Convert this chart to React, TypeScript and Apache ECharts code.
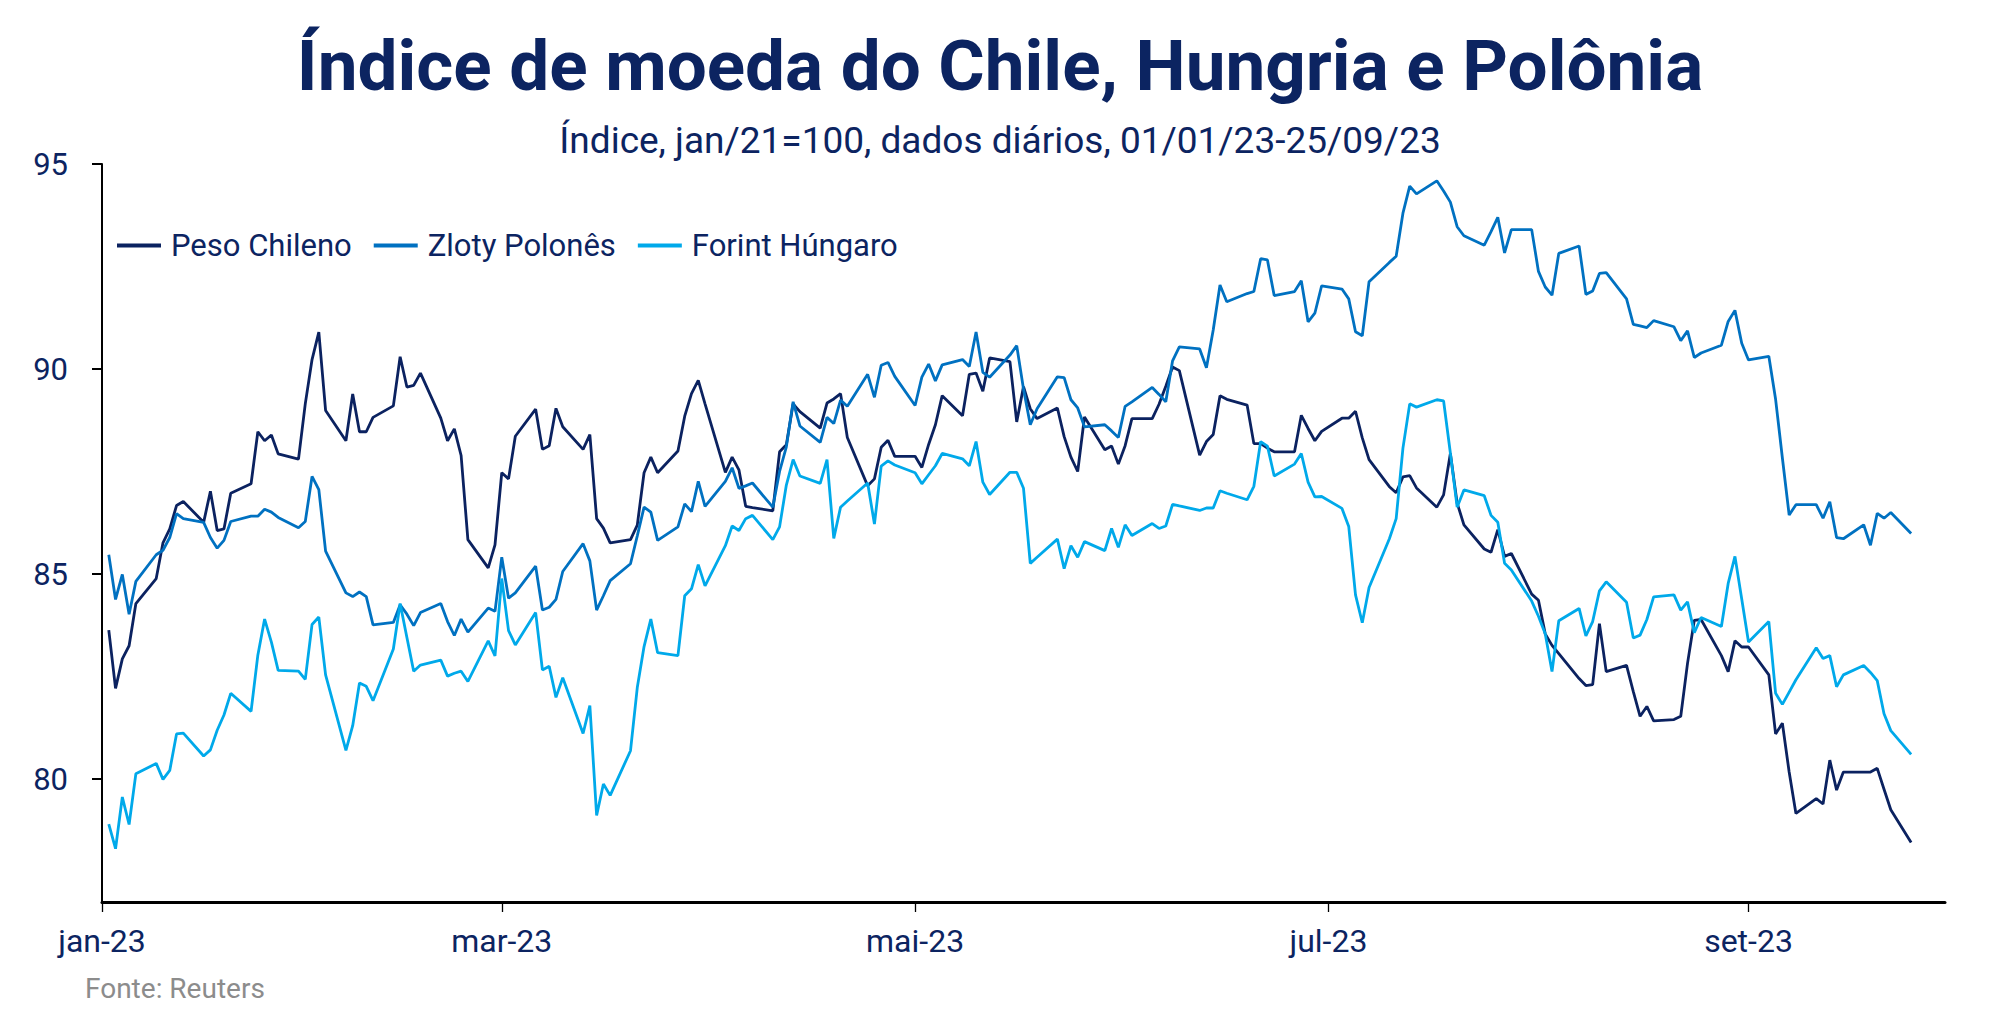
import React, { useEffect, useRef } from "react";
import * as echarts from "echarts";

const TITLE = "Índice de moeda do Chile, Hungria e Polônia";
const SUBTITLE = "Índice, jan/21=100, dados diários, 01/01/23-25/09/23";
const SOURCE = "Fonte: Reuters";

const seriesNames = ["Peso Chileno", "Zloty Polonês", "Forint Húngaro"];
const seriesColors = ["#0b2260", "#0071c1", "#00a9ea"];

// x-axis ticks: day offset from 01/01/2023
const xTickDays = [0, 59, 120, 181, 243];
const xTickLabels = ["jan-23", "mar-23", "mai-23", "jul-23", "set-23"];
const yTicks = [80, 85, 90, 95];

// business days 02/01/2023 .. 25/09/2023 (day offsets from 01/01/2023)
const firstDay = 1;
const lastDay = 267;

// one row per week (Mon..Fri)
const pesoChileno = [
  83.63, 82.21, 82.93, 83.25, 84.28,
  84.89, 85.76, 86.1, 86.67, 86.77,
  86.26, 87.02, 86.06, 86.1, 86.97,
  87.2, 88.47, 88.25, 88.39, 87.93,
  87.8, 89.15, 90.23, 90.9, 88.99,
  88.25, 89.39, 88.47, 88.47, 88.82,
  89.1, 90.3, 89.56, 89.6, 89.9,
  88.8, 88.25, 88.54, 87.89, 85.84,
  85.15, 85.71, 87.47, 87.32, 88.36,
  89.02, 88.04, 88.13, 89.04, 88.59,
  88.04, 88.4, 86.35, 86.12, 85.76,
  85.84, 86.19, 87.47, 87.85, 87.47,
  88.0, 88.85, 89.4, 89.72, 89.15,
  87.48, 87.85, 87.54, 86.65, 86.62,
  86.54, 87.98, 88.15, 89.15, 88.96,
  88.56, 89.17, 89.27, 89.4, 88.33,
  87.15, 87.32, 88.09, 88.26, 87.87,
  87.87, 87.6, 88.16, 88.64, 89.35,
  88.86, 89.87, 89.9, 89.46, 90.27,
  90.18, 88.71, 89.57, 89.03, 88.79,
  89.05, 88.35, 87.85, 87.5, 88.83,
  88.03, 88.12, 87.68, 88.13, 88.79,
  88.79, 89.14, 89.58, 90.05, 89.96,
  87.9, 88.23, 88.4, 89.35, 89.26,
  89.12, 88.18, 88.18, 88.07, 87.98,
  87.98, 88.87, 88.55, 88.25, 88.48,
  88.8, 88.8, 88.97, 88.32, 87.79,
  87.13, 86.98, 87.37, 87.4, 87.1,
  86.63, 86.93, 87.94, 86.73, 86.2,
  85.61, 85.53, 86.08, 85.43, 85.5,
  84.51, 84.36, 83.54, 83.26, 83.06,
  82.45, 82.28, 82.3, 83.79, 82.62,
  82.77, 82.13, 81.53, 81.77, 81.42,
  81.45, 81.53, 82.82, 83.87, 83.89,
  83.01, 82.62, 83.37, 83.22, 83.22,
  82.54, 81.1, 81.36, 80.17, 79.16,
  79.52, 79.39, 80.46, 79.73, 80.17,
  80.17, 80.17, 80.26, 79.75, 79.25,
  78.45,
];

const zlotyPolones = [
  85.47, 84.38, 84.99, 84.02, 84.82,
  85.47, 85.58, 85.89, 86.47, 86.35,
  86.26, 85.89, 85.63, 85.82, 86.28,
  86.41, 86.41, 86.58, 86.51, 86.38,
  86.13, 86.28, 87.38, 87.06, 85.56,
  84.54, 84.45, 84.56, 84.45, 83.76,
  83.82, 84.25, 84.02, 83.74, 84.06,
  84.28, 83.84, 83.5, 83.9, 83.58,
  84.17, 84.09, 85.41, 84.41, 84.54,
  85.19, 84.12, 84.19, 84.38, 85.06,
  85.74, 85.32, 84.12, 84.47, 84.84,
  85.25, 85.93, 86.63, 86.51, 85.82,
  86.15, 86.71, 86.52, 87.26, 86.65,
  87.26, 87.59, 87.09, 87.15, 87.22,
  86.63, 87.5, 88.1, 89.2, 88.61,
  88.21, 88.82, 88.67, 89.24, 89.09,
  89.87, 89.31, 90.09, 90.16, 89.82,
  89.11, 89.8, 90.12, 89.71, 90.1,
  90.23, 90.06, 90.9, 89.92, 89.8,
  90.34, 90.57, 89.51, 88.64, 89.03,
  89.81, 89.79, 89.25, 89.05, 88.59,
  88.64, 88.49, 88.33, 89.09, 89.2,
  89.55, 89.38, 89.2, 90.2, 90.54,
  90.49, 90.03, 90.95, 92.05, 91.64,
  91.84, 91.89, 92.69, 92.66, 91.79,
  91.89, 92.15, 91.15, 91.36, 92.03,
  91.95, 91.71, 90.91, 90.81, 92.13,
  92.6, 92.75, 93.8, 94.46, 94.27,
  94.59, 94.34, 94.07, 93.47, 93.25,
  93.02, 93.35, 93.7, 92.83, 93.4,
  93.4, 92.38, 92.0, 91.8, 92.82,
  93.0, 91.82, 91.9, 92.33, 92.35,
  91.71, 91.09, 91.05, 91.01, 91.18,
  91.03, 90.69, 90.93, 90.28, 90.39,
  90.58, 91.16, 91.43, 90.63, 90.22,
  90.31, 89.26, 87.83, 86.44, 86.69,
  86.69, 86.36, 86.76, 85.89, 85.86,
  86.2, 85.7, 86.48, 86.36, 86.5,
  85.99,
];

const forintHungaro = [
  78.9, 78.3, 79.56, 78.89, 80.13,
  80.38, 79.99, 80.21, 81.1, 81.12,
  80.56, 80.71, 81.19, 81.56, 82.09,
  81.65, 83.02, 83.9, 83.34, 82.65,
  82.63, 82.43, 83.77, 83.95, 82.54,
  80.7, 81.3, 82.34, 82.26, 81.91,
  83.17, 84.28, 83.45, 82.63, 82.78,
  82.9, 82.51, 82.58, 82.63, 82.38,
  83.37, 83.0, 84.89, 83.62, 83.27,
  84.06, 82.66, 82.75, 81.99, 82.47,
  81.11, 81.79, 79.11, 79.88, 79.6,
  80.69, 82.23, 83.23, 83.9, 83.08,
  83.01, 84.47, 84.64, 85.23, 84.71,
  85.69, 86.17, 86.06, 86.35, 86.43,
  85.84, 86.15, 87.17, 87.79, 87.39,
  87.21, 87.79, 85.87, 86.63, 86.78,
  87.22, 86.22, 87.63, 87.76, 87.66,
  87.47, 87.2, 87.42, 87.64, 87.94,
  87.81, 87.64, 88.23, 87.24, 86.94,
  87.48, 87.48, 87.09, 85.26, 85.41,
  85.85, 85.13, 85.69, 85.41, 85.79,
  85.57, 86.11, 85.65, 86.2, 85.94,
  86.23, 86.11, 86.17, 86.7, 86.66,
  86.55, 86.61, 86.61, 87.03, 86.97,
  86.81, 87.14, 88.23, 88.12, 87.39,
  87.68, 87.94, 87.24, 86.88, 86.89,
  86.6, 86.16, 84.49, 83.81, 84.67,
  85.86, 86.35, 88.07, 89.15, 89.07,
  89.25, 89.22, 87.95, 86.63, 87.05,
  86.91, 86.43, 86.26, 85.26, 85.1,
  84.34, 83.97, 83.54, 82.62, 83.86,
  84.16, 83.49, 83.84, 84.59, 84.81,
  84.31, 83.44, 83.51, 83.89, 84.44,
  84.49, 84.12, 84.32, 83.57, 83.94,
  83.72, 84.77, 85.43, 84.39, 83.34,
  83.84, 82.09, 81.82, 82.12, 82.42,
  83.2, 82.94, 83.01, 82.25, 82.54,
  82.77, 82.6, 82.4, 81.59, 81.18,
  80.6,
];

const NAVY = "#0c2461";

function businessDays(): number[] {
  const out: number[] = [];
  // 01/01/2023 was a Sunday: day offset d is a weekday when (d - 1) % 7 < 5
  for (let d = firstDay; d <= lastDay; d++) if ((d - 1) % 7 < 5) out.push(d);
  return out;
}

export default function App() {
  const ref = useRef<HTMLDivElement>(null);
  useEffect(() => {
    document.body.style.margin = "0";
    if (!ref.current) return;
    const chart = echarts.init(ref.current, null, { renderer: "svg" });
    const days = businessDays();
    const all = [pesoChileno, zlotyPolones, forintHungaro];
    const font = "Roboto";
    chart.setOption({
      animation: false,
      backgroundColor: "#ffffff",
      textStyle: { fontFamily: font },
      graphic: [
        {
          type: "text",
          x: 1000,
          y: 65,
          style: {
            text: TITLE,
            align: "center",
            verticalAlign: "middle",
            fontFamily: font,
            fontWeight: "bold",
            fontSize: 71,
            fill: NAVY,
          },
        },
        {
          type: "text",
          x: 1000,
          y: 140,
          style: {
            text: SUBTITLE,
            align: "center",
            verticalAlign: "middle",
            fontFamily: font,
            fontSize: 37,
            fill: NAVY,
          },
        },
        {
          type: "text",
          x: 85,
          y: 988,
          style: {
            text: SOURCE,
            align: "left",
            verticalAlign: "middle",
            fontFamily: font,
            fontSize: 28,
            fill: "#8c8c8c",
          },
        },
      ],
      legend: {
        left: 112,
        top: 225,
        icon: "rect",
        itemWidth: 44,
        itemHeight: 4,
        itemGap: 22,
        data: seriesNames,
        textStyle: { fontSize: 31, color: NAVY, fontFamily: font, padding: [0, 0, 0, 5] },
      },
      grid: { left: 102, right: 55, top: 164, bottom: 123, containLabel: false },
      xAxis: {
        type: "value",
        min: 0,
        max: 272,
        axisLine: { show: true, lineStyle: { color: "#000", width: 3 } },
        axisTick: {
          show: true,
          customValues: xTickDays,
          length: 10,
          lineStyle: { color: "#000", width: 1.3 },
        },
        axisLabel: {
          customValues: xTickDays,
          formatter: (v: number) => {
            const i = xTickDays.indexOf(Math.round(v));
            return i >= 0 ? xTickLabels[i] : "";
          },
          fontSize: 32,
          color: NAVY,
          fontFamily: font,
          margin: 23,
        },
        splitLine: { show: false },
      },
      yAxis: {
        type: "value",
        min: 77,
        max: 95,
        axisLine: { show: true, lineStyle: { color: "#000", width: 2 } },
        axisTick: {
          show: true,
          customValues: yTicks,
          length: 10,
          lineStyle: { color: "#000", width: 2 },
        },
        axisLabel: {
          customValues: yTicks,
          fontSize: 31,
          color: NAVY,
          fontFamily: font,
          margin: 34,
        },
        splitLine: { show: false },
      },
      series: all.map((vals, s) => ({
        name: seriesNames[s],
        type: "line",
        showSymbol: false,
        symbol: "none",
        color: seriesColors[s],
        lineStyle: { color: seriesColors[s], width: 2.8 },
        data: days.map((d, i) => [d, vals[i]]),
      })),
    });
    return () => chart.dispose();
  }, []);
  return (
    <div
      ref={ref}
      style={{ position: "absolute", left: 0, top: 0, width: 2000, height: 1025 }}
    />
  );
}
